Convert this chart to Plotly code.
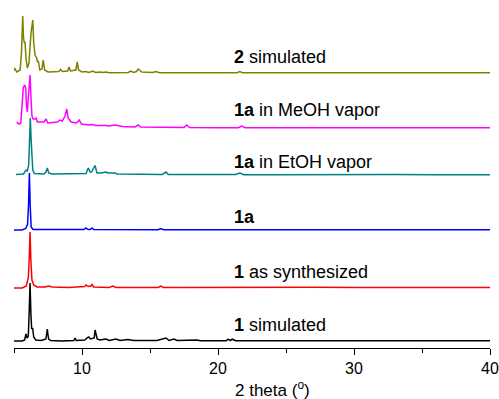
import plotly.graph_objects as go

# ---------------- data (2theta in degrees, intensity in arbitrary units) ----------------
x_1sim = [5.0, 5.6, 5.78, 5.88, 5.96, 6.05, 6.12, 6.18, 6.24, 6.3, 6.37, 6.45, 6.6, 7.0, 7.35, 7.42, 7.45, 7.48, 7.55, 7.7,
          8.5, 9.4, 9.49, 9.58, 10.2, 10.4, 10.5, 10.62, 10.9, 10.96, 11.03, 11.12, 11.3, 11.76, 12.0, 12.5, 12.8, 13.38,
          13.8, 15.5, 16.18, 16.4, 16.76, 17.0, 18.43, 18.7, 20.6, 20.75, 20.9, 21.05, 21.3, 25.0, 30.0, 34.0, 36.0, 40.0]
y_1sim = [0, 0, 1, 7, 3, 5, 30, 58, 28, 12, 13, 4, 1, 0.5, 2, 8, 12, 8, 2, 0.5,
          0, 0.5, 3, 0.5, 1, 3.3, 4, 2, 3, 11, 8, 2, 1, 2, 0.5, 2, 0.5, 1.5,
          0.5, 0.5, 3, 0.5, 2, 0.5, 1, 0.3, 0.3, 1.8, 0.5, 1.8, 0.3, 0.3, 0.5, 0.3, 0.6, 0.3]

x_1syn = [5.0, 5.6, 5.9, 6.05, 6.12, 6.18, 6.24, 6.32, 6.45, 6.54, 6.7, 7.3, 7.55, 7.8, 9.0, 10.2, 10.3, 10.45, 10.65,
          10.74, 10.85, 12.0, 12.28, 12.5, 15.6, 15.79, 16.0, 18.0, 21.0, 24.0, 27.0, 30.0, 33.0, 36.0, 40.0]
y_1syn = [0, 0, 2, 10, 30, 56, 28, 8, 3, 2.5, 1, 1, 2, 1, 0.5, 1.5, 3, 1.5, 2,
          3.5, 1, 0.5, 2, 0.5, 0.5, 2, 0.5, 0.5, 0.8, 0.4, 0.7, 0.4, 0.6, 0.4, 0.4]

x_1a = [5.0, 5.6, 5.86, 6.0, 6.07, 6.13, 6.19, 6.26, 6.4, 8.0, 10.15, 10.29, 10.45, 10.6, 10.74, 10.85, 12.1, 12.28,
        12.45, 15.6, 15.79, 16.0, 20.0, 25.0, 30.0, 35.0, 40.0]
y_1a = [0, 0, 1.5, 6, 25, 57, 25, 3, 0.5, 0.3, 0.5, 2, 0.5, 0.5, 2, 0.5, 0.3, 1,
        0.3, 0.3, 1.5, 0.3, 0.3, 0.4, 0.3, 0.4, 0.3]

x_etoh = [5.15, 5.7, 5.88, 5.98, 6.08, 6.15, 6.2, 6.26, 6.32, 6.38, 6.5, 7.2, 7.35, 7.45, 7.55, 7.8, 10.3, 10.46, 10.6,
          10.7, 10.96, 11.1, 11.4, 11.76, 11.9, 12.43, 12.6, 15.9, 16.18, 16.35, 17.0, 18.1, 20.0, 21.3, 21.6, 21.9,
          24.0, 27.0, 30.0, 33.0, 36.0, 40.0]
y_etoh = [0.5, 1, 5, 4, 10, 40, 57, 35, 8, 5, 1.5, 1, 3, 7, 2, 1, 1.5, 7, 3,
          3, 9.5, 2, 2, 3, 2, 2, 1, 0.5, 3, 0.5, 0.5, 0.5, 0.3, 0.5, 2, 0.3,
          0.3, 0.5, 0.2, 0.4, 0.2, 0.2]

x_meoh = [5.2, 5.35, 5.5, 5.6, 5.68, 5.78, 5.86, 5.92, 5.98, 6.05, 6.12, 6.18, 6.25, 6.32, 6.4, 6.55, 6.63, 6.72,
          7.2, 7.36, 7.48, 8.2, 8.38, 8.55, 8.75, 8.88, 8.98, 9.2, 9.6, 9.8, 9.95, 10.5, 10.74, 11.0, 11.76, 12.0,
          12.43, 13.0, 13.9, 14.14, 14.3, 16.5, 17.5, 17.7, 17.9, 20.0, 21.5, 21.74, 22.0, 25.0, 30.0, 35.0, 40.0]
y_meoh = [6, 4, 5, 20, 40, 43, 40, 22, 16, 30, 50, 53, 30, 12, 9, 9, 10, 6,
          6, 9, 5, 6, 8, 7, 12, 19, 10, 6, 5, 8, 4, 3, 3.5, 2.5, 2.5, 2,
          3, 1.5, 1, 3, 1, 0.5, 0.5, 3, 0.5, 0.3, 0.3, 2, 0.3, 0.2, 0.3, 0.2, 0.2]

x_2sim = [5.0, 5.05, 5.2, 5.45, 5.55, 5.64, 5.7, 5.76, 5.81, 5.88, 5.98, 6.1, 6.25, 6.38, 6.45, 6.55, 6.67, 6.73, 6.79,
          6.9, 7.05, 7.15, 7.25, 7.5, 8.3, 8.43, 8.55, 8.95, 9.04, 9.15, 9.55, 9.65, 9.75, 10.0, 10.29, 10.5, 10.79,
          11.0, 11.32, 11.5, 11.76, 12.0, 13.4, 13.58, 13.8, 14.0, 14.14, 14.4, 15.2, 15.42, 15.7, 18.0, 21.4, 21.6,
          21.8, 25.0, 30.0, 35.0, 40.0]
y_2sim = [2.3, 5, 1, 3, 20, 57, 35, 30, 31, 15, 5, 10, 40, 53, 30, 18, 15, 11, 12,
          3, 4, 13, 3, 1, 1.5, 3.5, 1.5, 2, 6, 2, 3, 11, 3, 1, 1.5, 0.5, 2,
          0.5, 1, 0.5, 1, 0.3, 0.5, 2, 0.5, 1.5, 4, 1, 0.5, 1.5, 0.3, 0.2, 0.2, 1.5,
          0.2, 0.2, 0.3, 0.2, 0.2]

series_names = ["<b>1</b> simulated", "<b>1</b> as synthesized", "<b>1a</b>",
                "<b>1a</b> in EtOH vapor", "<b>1a</b> in MeOH vapor", "<b>2</b> simulated"]
series_x = [x_1sim, x_1syn, x_1a, x_etoh, x_meoh, x_2sim]
series_y = [y_1sim, y_1syn, y_1a, y_etoh, y_meoh, y_2sim]

# ---------------- styling ----------------
offsets = [7, 60, 118, 173, 220, 275]
colors = ["#000000", "#FF0000", "#0000FF", "#008080", "#FF00FF", "#808000"]
label_y = [23, 76, 131, 186, 238, 291]
FONT = "Liberation Sans, Arial"

fig = go.Figure()
for xs, ys, off, c, name in zip(series_x, series_y, offsets, colors, series_names):
    fig.add_trace(go.Scatter(x=xs, y=[v + off for v in ys], mode="lines",
                             line=dict(color=c, width=1.5), name=name, showlegend=False))

for name, ly in zip(series_names, label_y):
    fig.add_annotation(x=21.03, y=ly, xref="x", yref="y", text=name, showarrow=False,
                       xanchor="left", yanchor="middle",
                       font=dict(family=FONT, size=18, color="black"))

fig.add_annotation(x=(272 - 14) / 476, y=-0.117, xref="paper", yref="paper",
                   text="2 theta (<sup>o</sup>)", showarrow=False, xanchor="center", yanchor="middle",
                   font=dict(family=FONT, size=17, color="black"))

fig.update_layout(
    width=499, height=399,
    margin=dict(l=14, r=9, t=0, b=51),
    paper_bgcolor="white", plot_bgcolor="white",
    xaxis=dict(range=[5, 40], tickvals=[10, 20, 30, 40], ticks="outside", ticklen=6, tickwidth=1.3,
               tickcolor="black", showline=True, linecolor="black", linewidth=1.3, showgrid=False,
               zeroline=False, tickfont=dict(family=FONT, size=16, color="black"),
               minor=dict(tickmode="linear", tick0=5, dtick=5, ticks="outside", ticklen=4,
                          tickcolor="black", tickwidth=1.3, showgrid=False)),
    yaxis=dict(range=[0, 348], visible=False, showgrid=False, zeroline=False),
)

fig.write_html("out.html")
